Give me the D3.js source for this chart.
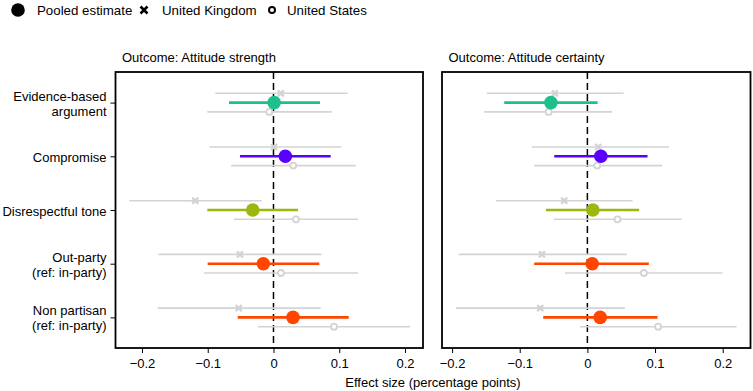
<!DOCTYPE html>
<html><head><meta charset="utf-8">
<script src="https://cdn.jsdelivr.net/npm/d3@7"></script>
<style>
body{margin:0;background:#fff;}
text{font-family:"Liberation Sans",Arial,sans-serif;}
</style></head>
<body><svg id="c" width="753" height="391"></svg>
<script>
const categories = ["Evidence-based\nargument","Compromise","Disrespectful tone","Out-party\n(ref: in-party)","Non partisan\n(ref: in-party)"];
const catColors = ["#1dbf8c","#5a00ff","#9ab80e","#ff4500","#ff4500"];
const xTicks = [-0.2,-0.1,0,0.1,0.2];
const xTickLabels = ["\u22120.2","\u22120.1","0","0.1","0.2"];
const panelTitles = ["Outcome: Attitude strength","Outcome: Attitude certainty"];
const xDomains = [[-0.2403,0.2274],[-0.2149,0.2411]];

// Attitude strength: [estimate, low, high]
const strengthPooled = [[0.001,-0.0677,0.0707],[0.018,-0.051,0.087],[-0.0316,-0.1007,0.0373],[-0.0155,-0.1001,0.0697],[0.0297,-0.0544,0.1144]];
const strengthUK = [[0.011,-0.0885,0.1128],[0.001,-0.0976,0.1037],[-0.1189,-0.2193,-0.018],[-0.051,-0.1746,0.0727],[-0.0529,-0.1761,0.0718]];
const strengthUS = [[-0.0064,-0.1007,0.0885],[0.0301,-0.0642,0.125],[0.0342,-0.0601,0.1285],[0.0114,-0.1057,0.1285],[0.092,-0.0236,0.2076]];
// Attitude certainty
const certaintyPooled = [[-0.0539,-0.1229,0.0151],[0.0199,-0.049,0.0889],[0.0081,-0.0613,0.0765],[0.0071,-0.0786,0.0908],[0.0189,-0.0653,0.1037]];
const certaintyUK = [[-0.048,-0.1489,0.0535],[0.016,-0.0824,0.1204],[-0.0343,-0.1352,0.0668],[-0.0672,-0.1903,0.0583],[-0.0697,-0.1942,0.0554]];
const certaintyUS = [[-0.0573,-0.1524,0.0366],[0.0145,-0.0786,0.1105],[0.0446,-0.0495,0.1391],[0.0835,-0.0332,0.1997],[0.1046,-0.0106,0.2204]];

const panels = [
  {pooled:strengthPooled, uk:strengthUK, us:strengthUS},
  {pooled:certaintyPooled, uk:certaintyUK, us:certaintyUS}
];

const svg = d3.select("#c");
const grey = "#d3d3d3";
const panelBoxes = [{x0:115.5,x1:423},{x0:442,x1:750.5}];
const plotTop = 72, plotBottom = 348;
const y = d3.scaleLinear().domain([0.43,5.57]).range([plotTop,plotBottom]);
const off = 0.173;

// legend
const lg = svg.append("g");
lg.append("circle").attr("cx",18).attr("cy",10).attr("r",6.8).attr("fill","#000");
lg.append("text").attr("x",37).attr("y",14.5).attr("font-size",13.3).text("Pooled estimate");
lg.append("path").attr("d","M140.5,6.5L147.5,13.5M147.5,6.5L140.5,13.5").attr("stroke","#000").attr("stroke-width",2.6);
lg.append("text").attr("x",162).attr("y",14.5).attr("font-size",13.3).text("United Kingdom");
lg.append("circle").attr("cx",272).attr("cy",10).attr("r",3).attr("fill","none").attr("stroke","#000").attr("stroke-width",2);
lg.append("text").attr("x",287).attr("y",14.5).attr("font-size",13.3).text("United States");

panels.forEach((p,pi)=>{
  const b = panelBoxes[pi];
  const x = d3.scaleLinear().domain(xDomains[pi]).range([b.x0,b.x1]);
  const g = svg.append("g");
  g.append("text").attr("x",b.x0+6.5).attr("y",62).attr("font-size",13).text(panelTitles[pi]);
  // zero line
  g.append("line").attr("x1",x(0)).attr("x2",x(0)).attr("y1",plotTop).attr("y2",plotBottom)
    .attr("stroke","#000").attr("stroke-width",1.5).attr("stroke-dasharray","7,4");
  const rows = categories.map((c,i)=>i);
  // grey CIs
  [["uk",-off],["us",off]].forEach(([k,o])=>{
    g.selectAll(null).data(rows).enter().append("line")
      .attr("x1",i=>x(p[k][i][1])).attr("x2",i=>x(p[k][i][2]))
      .attr("y1",i=>y(i+1+o)).attr("y2",i=>y(i+1+o))
      .attr("stroke",grey).attr("stroke-width",1.6);
  });
  // UK crosses
  g.selectAll(null).data(rows).enter().append("path")
    .attr("d",i=>{const cx=x(p.uk[i][0]), cy=y(i+1-off), s=3;
      return `M${cx-s},${cy-s}L${cx+s},${cy+s}M${cx+s},${cy-s}L${cx-s},${cy+s}`;})
    .attr("stroke",grey).attr("stroke-width",2.4);
  // US open circles
  g.selectAll(null).data(rows).enter().append("circle")
    .attr("cx",i=>x(p.us[i][0])).attr("cy",i=>y(i+1+off)).attr("r",3)
    .attr("fill","#fff").attr("stroke",grey).attr("stroke-width",1.8);
  // pooled
  g.selectAll(null).data(rows).enter().append("line")
    .attr("x1",i=>x(p.pooled[i][1])).attr("x2",i=>x(p.pooled[i][2]))
    .attr("y1",i=>y(i+1)).attr("y2",i=>y(i+1))
    .attr("stroke",i=>catColors[i]).attr("stroke-width",2.6);
  g.selectAll(null).data(rows).enter().append("circle")
    .attr("cx",i=>x(p.pooled[i][0])).attr("cy",i=>y(i+1)).attr("r",6.8)
    .attr("fill",i=>catColors[i]);
  // frame
  g.append("rect").attr("x",b.x0).attr("y",plotTop).attr("width",b.x1-b.x0).attr("height",plotBottom-plotTop)
    .attr("fill","none").attr("stroke","#000").attr("stroke-width",1.8);
  // x axis
  const ax = g.append("g").attr("transform",`translate(0,${plotBottom})`)
    .call(d3.axisBottom(x).tickValues(xTicks).tickSize(5).tickSizeOuter(0).tickFormat((d,i)=>xTickLabels[i]));
  ax.select(".domain").remove();
  ax.selectAll("line").attr("stroke","#000").attr("stroke-width",1);
  ax.selectAll("text").attr("font-size",13).attr("font-family","Liberation Sans, Arial, sans-serif").attr("fill","#000").attr("dy","0.95em");
  if(pi===0){
    const ay = g.append("g").attr("transform",`translate(${b.x0},0)`)
      .call(d3.axisLeft(y).tickValues([1,2,3,4,5]).tickSize(5).tickFormat(""));
    ay.select(".domain").remove();
    ay.selectAll("line").attr("stroke","#000");
    categories.forEach((c,i)=>{
      const lines = c.split("\n");
      const t = g.append("text").attr("text-anchor","end").attr("font-size",13).attr("x",b.x0-9);
      const cy = y(i+1);
      const start = cy - (lines.length-1)*15/2 + 5.5;
      lines.forEach((l,j)=>t.append("tspan").attr("x",b.x0-9).attr("y",start+j*15).text(l));
    });
  }
});
svg.append("text").attr("x",433).attr("y",387).attr("text-anchor","middle").attr("font-size",13).text("Effect size (percentage points)");
</script></body></html>
